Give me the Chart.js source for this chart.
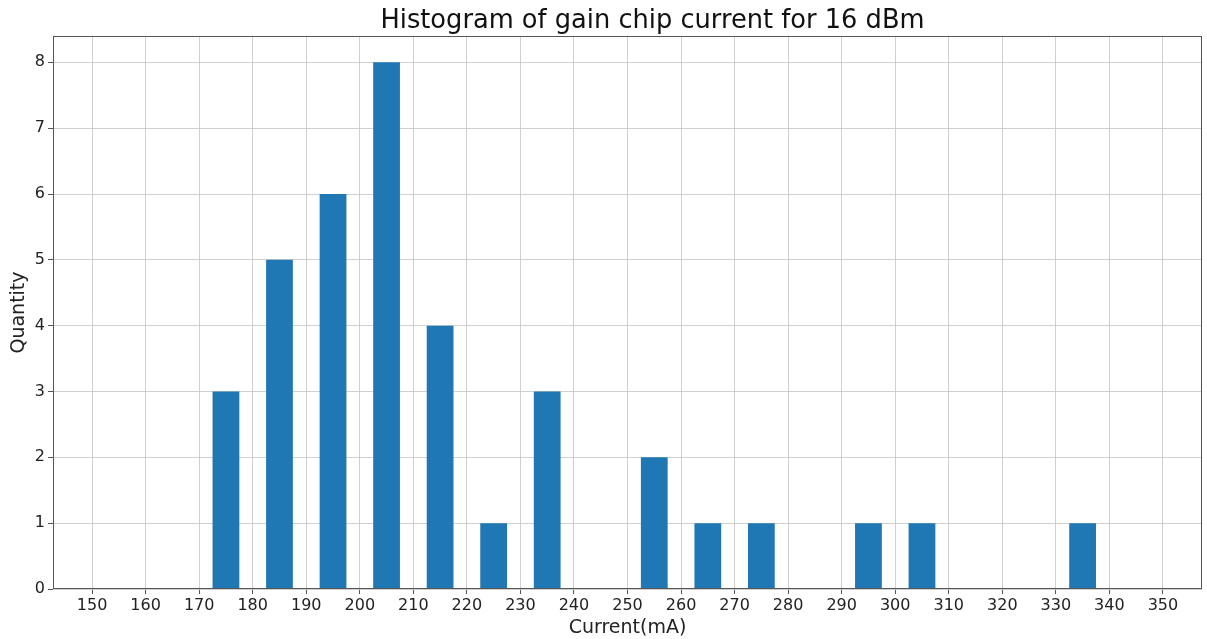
<!DOCTYPE html>
<html>
<head>
<meta charset="utf-8">
<script src="https://cdn.jsdelivr.net/npm/chart.js@4/dist/chart.umd.min.js"></script>
<style>
  html, body { margin: 0; padding: 0; background: #fff; }
  #wrap { width: 1207px; height: 639px; }
</style>
</head>
<body>
<div id="wrap"><canvas id="c" width="1207" height="639"></canvas></div>
<script>
// Histogram bins (bin centres in mA) and their counts
const binCentres = [175, 185, 195, 205, 215, 225, 235, 255, 265, 275, 295, 305, 335];
const counts     = [3, 5, 6, 8, 4, 1, 3, 2, 1, 1, 1, 1, 1];
const xTicks = [150, 160, 170, 180, 190, 200, 210, 220, 230, 240, 250, 260, 270, 280, 290, 300, 310, 320, 330, 340, 350];
const yTicks = [0, 1, 2, 3, 4, 5, 6, 7, 8];
const chartTitle = 'Histogram of gain chip current for 16 dBm';

const FONT = "'DejaVu Sans', sans-serif";
const GRID = 'rgba(200,200,200,0.85)';
const SPINE = '#555';

// Box around the plot area (all four spines) and the heading above it
const frame = {
  id: 'frame',
  afterDraw(chart) {
    const a = chart.chartArea, ctx = chart.ctx;
    ctx.save();
    ctx.strokeStyle = SPINE;
    ctx.lineWidth = 1;
    ctx.strokeRect(a.left + 0.5, a.top + 0.5, a.right - a.left - 1, a.bottom - a.top - 1);
    ctx.fillStyle = '#111';
    ctx.font = '25.7px ' + FONT;
    ctx.textAlign = 'center';
    ctx.textBaseline = 'alphabetic';
    ctx.fillText(chartTitle, 652.5, 28);
    ctx.restore();
  }
};

new Chart(document.getElementById('c'), {
  type: 'bar',
  data: {
    datasets: [{
      data: binCentres.map((x, i) => ({ x, y: counts[i] })),
      backgroundColor: '#1f77b4',
      borderWidth: 0,
      barPercentage: 0.5,
      categoryPercentage: 1.0
    }]
  },
  plugins: [frame],
  options: {
    responsive: false,
    animation: false,
    layout: { padding: { left: 0, right: 5, top: 36, bottom: 0 } },
    plugins: {
      legend: { display: false },
      tooltip: { enabled: false },
      title: { display: false }
    },
    scales: {
      x: {
        type: 'linear',
        offset: false,
        min: 142.7,
        max: 357.3,
        z: 1,
        afterBuildTicks: s => { s.ticks = xTicks.map(v => ({ value: v })); },
        afterFit: s => { s.height = 50; },
        grid: { offset: false, color: GRID, tickColor: SPINE, tickLength: 5, lineWidth: 1 },
        border: { display: false },
        ticks: { color: '#222', font: { family: FONT, size: 16 }, padding: 2, maxRotation: 0, autoSkip: false },
        title: { display: true, text: 'Current(mA)', color: '#222', font: { family: FONT, size: 19 }, padding: { top: 0, bottom: 0 } }
      },
      y: {
        min: 0,
        max: 8.4,
        z: 1,
        afterBuildTicks: s => { s.ticks = yTicks.map(v => ({ value: v })); },
        afterFit: s => { s.width = 53; },
        grid: { color: GRID, tickColor: SPINE, tickLength: 5, lineWidth: 1 },
        border: { display: false },
        ticks: { color: '#222', font: { family: FONT, size: 16 }, padding: 3 },
        title: { display: true, text: 'Quantity', color: '#222', font: { family: FONT, size: 19 }, padding: { top: 8, bottom: 0 } }
      }
    }
  }
});
</script>
</body>
</html>
